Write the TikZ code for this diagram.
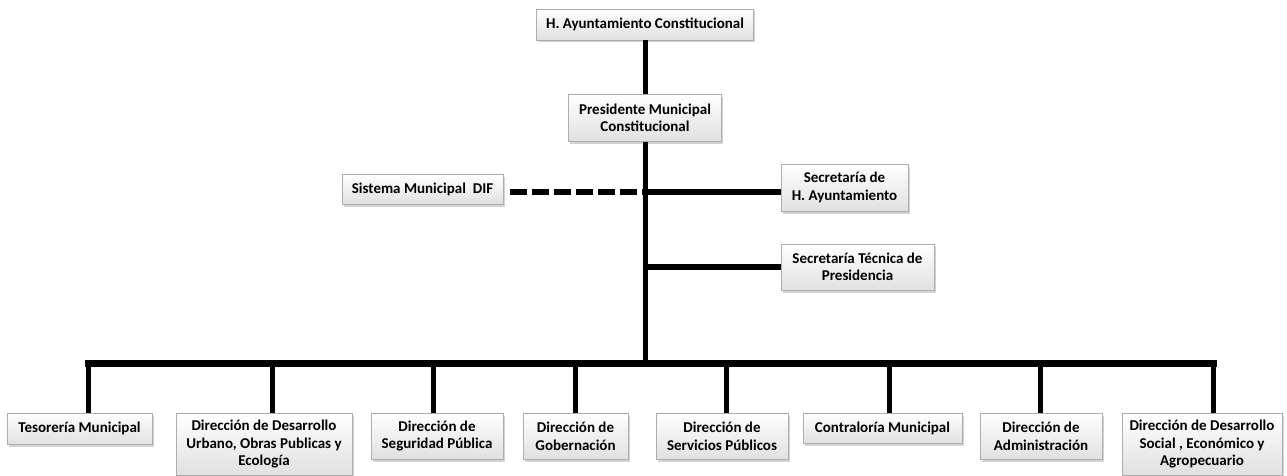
\documentclass[tikz,border=0pt]{standalone}
\usepackage{fontspec}
\setmainfont{Carlito}
\usepackage{tikz}
\usetikzlibrary{positioning, shadows}

\begin{document}
\begin{tikzpicture}[x=1pt, y=-1pt]
	\tikzstyle{box}=[rectangle, draw=black!32, top color=white, bottom color=black!12, drop shadow={shadow xshift=1.5pt, shadow yshift=-2.5pt, opacity=0.35}, align=center, inner sep=0pt, font=\bfseries\fontsize{15}{17.5}\selectfont]
	\tikzstyle{connect}=[line width=5pt]
	\tikzstyle{side}=[line width=6pt]
	\tikzstyle{bus}=[line width=7pt, line cap=rect]
	\tikzstyle{dashline}=[line width=6pt, dash pattern=on 17pt off 5pt]
	
	\useasboundingbox (0,0) rectangle (1287,476);
	
	\node[box, minimum width=217pt, minimum height=31pt] (ayu) at (645,24.5) {H. Ayuntamiento Constitucional};
	\node[box, minimum width=153pt, minimum height=47pt, below=54pt of ayu] (pres) {Presidente Municipal\\Constitucional};
	
	\node[box, minimum width=161pt, minimum height=30pt] (dif) at (422.5,189) {Sistema Municipal\ \ DIF};
	\node[box, minimum width=127pt, minimum height=47pt] (secay) at (844.5,187.5) {Secretaría de\\H. Ayuntamiento};
	\node[box, minimum width=153pt, minimum height=46pt] (sectec) at (857.5,267) {Secretaría Técnica de\\Presidencia};
	
	% direcciones
	\node[box, anchor=north, minimum width=145pt, minimum height=31pt] (tes) at (79.5,413) {Tesorería Municipal};
	\node[box, anchor=north, minimum width=176pt, minimum height=62pt] (urb) at (264,413) {Dirección de Desarrollo\\Urbano, Obras Publicas y\\Ecología};
	\node[box, anchor=north, minimum width=132pt, minimum height=46pt] (seg) at (437,413) {Dirección de\\Seguridad Pública};
	\node[box, anchor=north, minimum width=105pt, minimum height=46pt] (gob) at (575.5,413) {Dirección de\\Gobernación};
	\node[box, anchor=north, minimum width=132pt, minimum height=46pt] (ser) at (722,413) {Dirección de\\Servicios Públicos};
	\node[box, anchor=north, minimum width=159pt, minimum height=30pt] (con) at (882.5,413) {Contraloría Municipal};
	\node[box, anchor=north, minimum width=122pt, minimum height=46pt] (adm) at (1041,413) {Dirección de\\Administración};
	\node[box, anchor=north, minimum width=160pt, minimum height=62pt] (soc) at (1202,413) {Dirección de Desarrollo\\Social , Económico y\\Agropecuario};
	
	\coordinate (jdif) at (645,192);
	\coordinate (bus) at (645,363);
	
	\path (ayu) edge [connect] (pres);
	\draw[connect] (pres) -- (pres |- bus);
	
	\draw[side] (jdif) -- (jdif -| secay.west);
	\draw[dashline] ([xshift=7pt]dif.east |- jdif) -- (jdif);
	\draw[side] (sectec.west) -- (sectec.west -| pres);
	
	\draw[bus] ([xshift=8.5pt]tes.north |- bus) -- ([xshift=11pt]soc.north |- bus);
	\foreach \n/\d in {tes/8.5, urb/8, seg/-4, gob/-0.5, ser/4, con/6.5, adm/-1, soc/11}
		\draw[connect] ([xshift=\d pt]\n.north |- bus) -- ([xshift=\d pt]\n.north);
	
\end{tikzpicture}
\end{document}
